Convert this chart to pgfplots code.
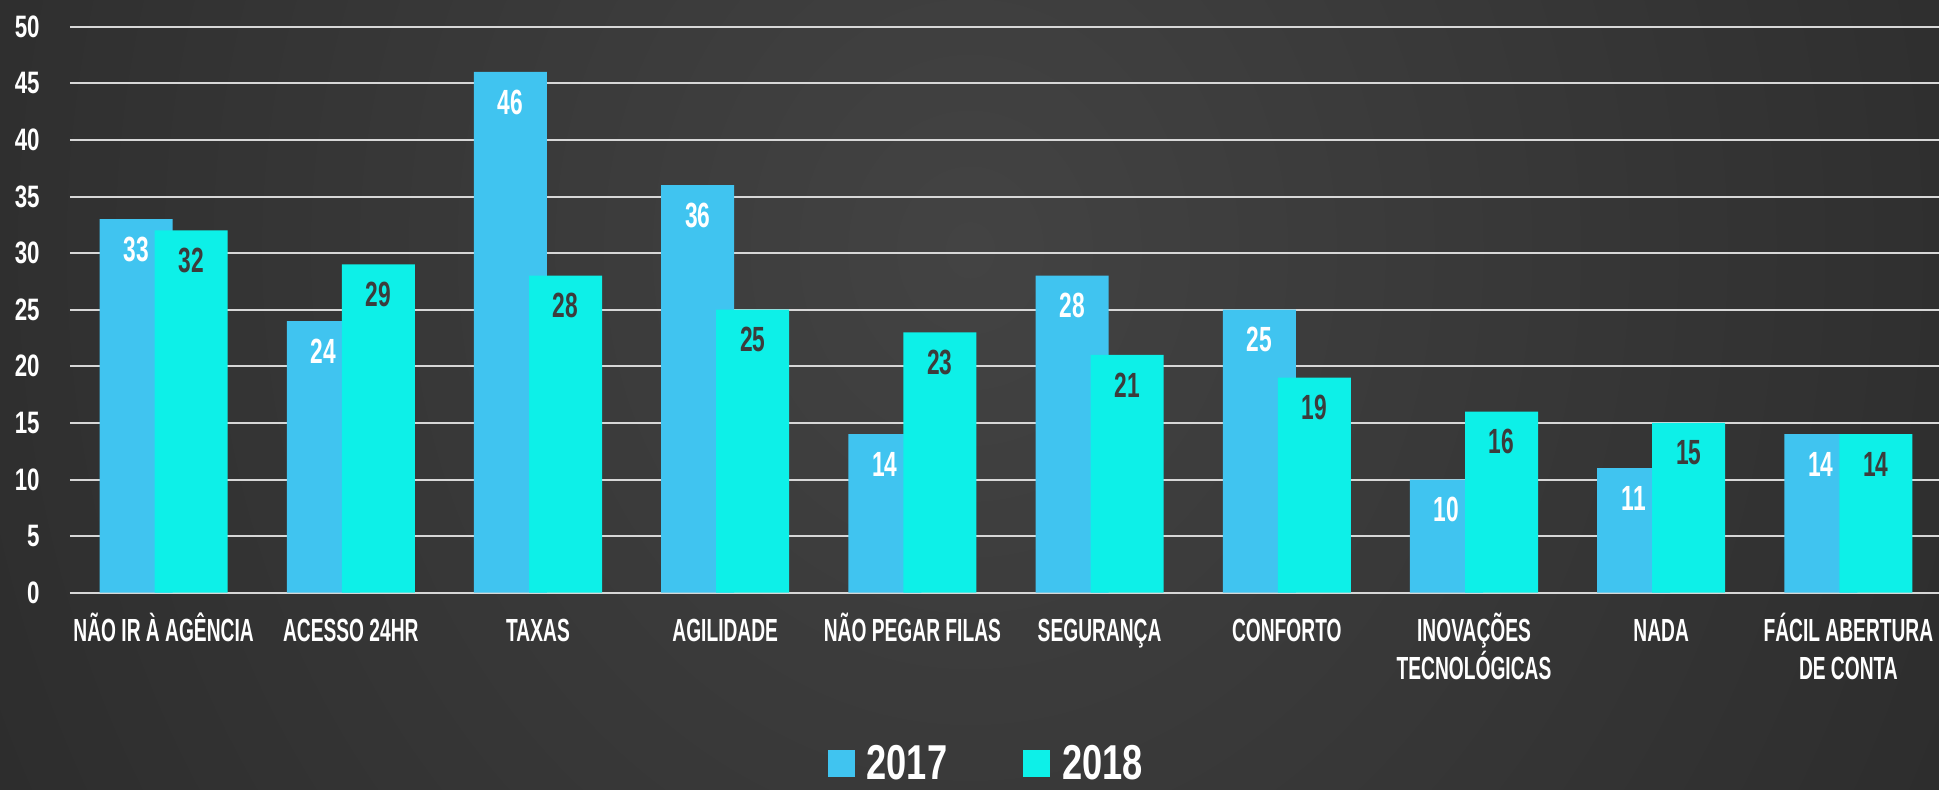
\documentclass[border=0pt]{standalone}
\usepackage{pgfplots}
\pgfplotsset{compat=1.18}
\usepackage{fontspec}
\setmainfont{Liberation Sans}
\newfontfamily\labfont{Liberation Sans}[FakeStretch=0.6]
\newfontfamily\numfont{Liberation Sans}[FakeStretch=0.65]
\newfontfamily\legfont{Liberation Sans}[FakeStretch=0.74]
\newfontfamily\tickfont{Liberation Sans}[FakeStretch=0.72]
\definecolor{cA}{RGB}{64,196,240}
\definecolor{cB}{RGB}{13,240,232}
\definecolor{gridc}{RGB}{215,215,215}
\definecolor{axc}{RGB}{170,170,170}
\definecolor{bgin}{RGB}{67,67,67}
\definecolor{bgout}{RGB}{24,24,24}
\definecolor{lblB}{RGB}{60,60,60}
\begin{document}
\begin{tikzpicture}
\begin{scope}
\clip (0,0) rectangle (969.5pt,394.5pt);
\fill[bgout] (0,0) rectangle (969.5pt,394.5pt);
\shade[inner color=bgin, outer color=bgout] (485pt,269.5pt) ellipse (1050pt and 1200pt);
\end{scope}
\begin{axis}[
  at={(35pt,98.15pt)}, anchor=south west,
  scale only axis, width=936pt, height=283pt,
  xmin=-0.5, xmax=9.5, ymin=0, ymax=50,
  ybar,
  axis line style={draw=none},
  major tick length=0pt,
  ytick={0,5,...,50},
  ymajorgrids,
  major grid style={line width=1pt, color=gridc},
  extra y ticks={0}, extra y tick labels={},
  extra y tick style={grid style={line width=1.6pt, color=axc}},
  xtick={0,...,9},
  xticklabels={\rule{0pt}{16pt}NÃO IR À AGÊNCIA, \rule{0pt}{16pt}ACESSO 24HR, \rule{0pt}{16pt}TAXAS, \rule{0pt}{16pt}AGILIDADE, \rule{0pt}{16pt}NÃO PEGAR FILAS, \rule{0pt}{16pt}SEGURANÇA, \rule{0pt}{16pt}CONFORTO, \rule{0pt}{16pt}INOVAÇÕES\\TECNOLÓGICAS, \rule{0pt}{16pt}NADA, \rule{0pt}{16pt}FÁCIL ABERTURA\\DE CONTA},
  xticklabel style={anchor=north, inner sep=0pt, yshift=-8.25pt, align=center, text=white, font=\labfont\bfseries\fontsize{16}{19}\selectfont},
  yticklabel style={anchor=east, inner sep=0pt, xshift=-15pt, text=white, font=\tickfont\bfseries\fontsize{15.5}{18}\selectfont},
  /pgf/number format/assume math mode=true,
  nodes near coords,
  every node near coord/.append style={anchor=center, yshift=-15pt, font=\numfont\bfseries\fontsize{17.5}{20}\selectfont},
  legend columns=2,
  legend image code/.code={\fill[#1] (0pt,1pt) rectangle (13.5pt,14.5pt);},
  legend style={at={(0.4047,-0.342)}, anchor=south west, draw=none, fill=none, inner sep=0pt, outer sep=0pt,
    font=\legfont\bfseries\fontsize{24.5}{29}\selectfont, text=white,
    cells={anchor=base west},
    /tikz/every odd column/.append style={column sep=4pt},
    /tikz/every even column/.append style={column sep=36pt}},
]
\addplot[fill=cA, draw=none, bar width=0.39, bar shift=-0.147, nodes near coords style={text=white}]
  coordinates {(0,33) (1,24) (2,46) (3,36) (4,14) (5,28) (6,25) (7,10) (8,11) (9,14)};
\addlegendentry{2017}
\addplot[fill=cB, draw=none, bar width=0.39, bar shift=0.147, nodes near coords style={text=lblB}]
  coordinates {(0,32) (1,29) (2,28) (3,25) (4,23) (5,21) (6,19) (7,16) (8,15) (9,14)};
\addlegendentry{2018}
\end{axis}
\pgfresetboundingbox
\useasboundingbox (0,0) rectangle (969.5pt,394.5pt);
\end{tikzpicture}
\end{document}
